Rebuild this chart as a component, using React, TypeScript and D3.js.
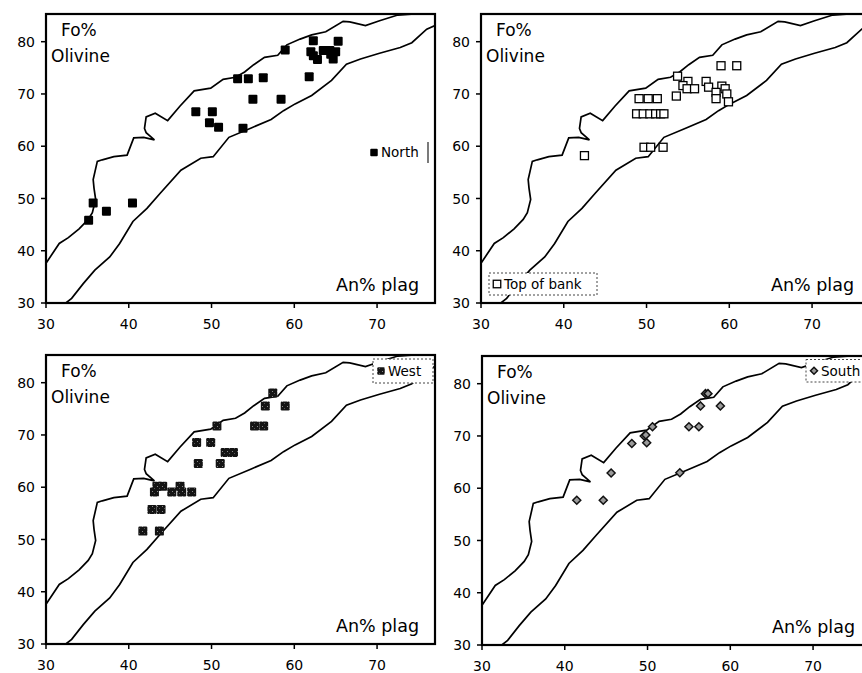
import React from "react";
import * as d3 from "d3";

// ---------- data ----------
const xTicks = [30, 40, 50, 60, 70];
const yTicks = [30, 40, 50, 60, 70, 80];
const xDomain: [number, number] = [30, 77];
const yDomain: [number, number] = [30, 85.3];

const upperBoundary: [number, number][] = [
  [30, 37.6], [31.6, 41.4], [32.7, 42.5], [34.0, 44.2], [35.1, 46.0], [35.6, 47.3],
  [36.0, 49.8], [35.8, 52.0], [35.7, 53.6], [36.2, 57.1], [36.8, 57.4], [38.2, 58.0],
  [39.8, 58.3], [40.6, 61.6], [41.8, 61.7], [43.1, 61.2], [42.1, 62.6], [41.9, 63.4],
  [42.1, 65.6], [43.2, 66.3], [44.7, 64.9], [46.2, 67.7], [47.9, 70.6], [49.9, 71.1],
  [51.4, 72.8], [52.9, 73.2], [54.0, 74.2], [55.1, 75.6], [56.4, 77.0], [58.0, 77.4],
  [59.1, 79.4], [60.7, 80.5], [62.1, 81.3], [63.8, 81.9], [65.9, 83.9], [66.7, 83.8],
  [68.6, 83.1], [70.3, 84.0], [72.5, 85.1], [77, 85.6],
];

const lowerBoundary: [number, number][] = [
  [30, 30.0], [32.4, 30.0], [33.1, 30.9], [34.5, 33.7], [35.9, 36.3], [37.7, 38.8],
  [38.9, 41.4], [40.5, 45.6], [42.2, 48.1], [43.8, 51.0], [46.3, 55.4], [48.7, 57.7],
  [50.2, 58.0], [52.1, 61.7], [54.8, 63.5], [57.2, 65.1], [58.7, 66.8], [60.1, 68.1],
  [62.1, 69.7], [64.5, 72.6], [66.3, 75.7], [68.0, 76.7], [70.3, 77.8], [72.8, 78.9],
  [74.2, 79.8], [76.0, 82.4], [77, 83.1],
];

const northPoints: [number, number][] = [
  [35.15, 45.85], [35.7, 49.15], [37.3, 47.55], [40.45, 49.15],
  [48.1, 66.6], [50.1, 66.6], [49.75, 64.5], [50.85, 63.65], [53.8, 63.45],
  [53.15, 72.9], [54.45, 72.9], [56.25, 73.1], [55.0, 69.0], [58.4, 69.0],
  [58.9, 78.4], [61.8, 73.3], [62.3, 80.2], [62.0, 78.1], [62.3, 77.3],
  [62.8, 76.6], [63.5, 78.3], [64.3, 78.3], [64.7, 76.7], [64.4, 77.6],
  [65.3, 80.1], [65.0, 78.1],
];

const topOfBankPoints: [number, number][] = [
  [42.5, 58.2], [49.7, 59.8], [50.5, 59.8], [52.0, 59.8],
  [49.1, 69.1], [50.2, 69.1], [51.3, 69.1],
  [48.8, 66.2], [49.6, 66.2], [50.4, 66.2], [51.1, 66.2], [51.7, 66.2], [52.1, 66.2],
  [53.75, 73.4], [55.0, 72.4], [54.4, 71.6], [54.9, 71.0], [55.8, 71.0], [57.2, 72.4],
  [57.5, 71.3], [53.6, 69.6], [59.1, 71.5], [59.5, 71.0], [58.4, 70.3], [58.4, 69.1],
  [59.7, 70.0], [59.9, 68.5], [59.0, 75.4], [60.9, 75.4],
];

const westPoints: [number, number][] = [
  [41.7, 51.6], [43.7, 51.6], [42.8, 55.75], [43.9, 55.75],
  [43.1, 59.1], [45.2, 59.1], [46.4, 59.1], [47.6, 59.1],
  [43.4, 60.2], [44.1, 60.2], [46.2, 60.2],
  [48.4, 64.55], [51.05, 64.55], [51.65, 66.65], [52.65, 66.65],
  [48.2, 68.55], [49.9, 68.55], [50.65, 71.7], [55.2, 71.7], [56.3, 71.7],
  [56.5, 75.55], [58.9, 75.55], [57.4, 78.05],
];

const southPoints: [number, number][] = [
  [41.45, 57.7], [44.65, 57.7], [45.6, 62.9], [48.1, 68.55], [49.6, 70.0],
  [49.8, 70.2], [49.9, 68.7], [50.6, 71.75], [53.9, 62.95], [55.0, 71.75],
  [56.2, 71.75], [56.4, 75.75], [57.0, 78.1], [57.3, 78.1], [58.8, 75.75],
];

const seriesNames = ["North", "Top of bank", "West", "South"];

// ---------- rendering ----------
const FONT = "'DejaVu Sans', Verdana, sans-serif";

type MarkerKind = "north" | "bank" | "west" | "south";

function Marker({ kind, x, y, s }: { kind: MarkerKind; x: number; y: number; s: number }) {
  if (kind === "north")
    return <rect x={x - s / 2} y={y - s / 2} width={s} height={s} rx={1} fill="#000" />;
  if (kind === "bank")
    return (
      <rect x={x - s / 2} y={y - s / 2} width={s} height={s} fill="#fff" stroke="#000" strokeWidth={1.3} />
    );
  if (kind === "west")
    return <rect x={x - s / 2} y={y - s / 2} width={s} height={s} rx={1.2} fill="url(#speck)" />;
  const h = s / 2;
  return (
    <path
      d={`M${x},${y - h}L${x + h},${y}L${x},${y + h}L${x - h},${y}Z`}
      fill="#9a9a9a"
      stroke="#111"
      strokeWidth={1.5}
    />
  );
}

interface PanelProps {
  id: string;
  left: number;
  top: number;
  w: number;
  h: number;
  points: [number, number][];
  kind: MarkerKind;
  size: number;
  name: string;
  legend: { x: number; y: number; w: number; h: number; style: "north" | "box" };
}

function Panel(p: PanelProps) {
  const x = d3.scaleLinear().domain(xDomain).range([0, p.w]);
  const y = d3.scaleLinear().domain(yDomain).range([p.h, 0]);
  const line = d3
    .line<[number, number]>()
    .x((d) => x(d[0]))
    .y((d) => y(d[1]));
  const lg = p.legend;
  return (
    <g transform={`translate(${p.left},${p.top})`} fontFamily={FONT}>
      <defs>
        <clipPath id={`clip-${p.id}`}>
          <rect x={0} y={0} width={p.w} height={p.h} />
        </clipPath>
      </defs>
      <g clipPath={`url(#clip-${p.id})`}>
        <path d={line(upperBoundary) || ""} fill="none" stroke="#000" strokeWidth={1.7} />
        <path d={line(lowerBoundary) || ""} fill="none" stroke="#000" strokeWidth={1.7} />
        {p.points.map((d, i) => (
          <Marker key={i} kind={p.kind} x={x(d[0])} y={y(d[1])} s={p.size} />
        ))}
        {/* legend */}
        {lg.style === "box" ? (
          <rect
            x={lg.x}
            y={lg.y}
            width={lg.w}
            height={lg.h}
            fill="#fff"
            stroke="#444"
            strokeWidth={1}
            strokeDasharray="2,2"
          />
        ) : (
          <g>
            <rect x={lg.x} y={lg.y} width={lg.w} height={lg.h} fill="#fff" />
            <line x1={lg.x + lg.w} x2={lg.x + lg.w} y1={lg.y} y2={lg.y + lg.h} stroke="#222" strokeWidth={1.2} />
          </g>
        )}
        <Marker kind={p.kind} x={lg.x + 8} y={lg.y + lg.h / 2} s={p.kind === "south" ? 7 : 7.5} />
        <text x={lg.x + 15} y={lg.y + lg.h / 2} dy="0.36em" fontSize={13.5} fill="#000">
          {p.name}
        </text>
      </g>
      {/* frame */}
      <rect x={0} y={0} width={p.w} height={p.h} fill="none" stroke="#000" strokeWidth={2.2} />
      {/* y axis */}
      {yTicks.map((t) => (
        <g key={`y${t}`} transform={`translate(0,${y(t)})`}>
          <line x1={-5} x2={0} stroke="#000" strokeWidth={1.5} />
          <text x={-11} dy="0.36em" textAnchor="end" fontSize={14} fill="#000">
            {t}
          </text>
        </g>
      ))}
      {/* x axis */}
      {xTicks.map((t) => (
        <g key={`x${t}`} transform={`translate(${x(t)},${p.h})`}>
          <line y1={0} y2={5} stroke="#000" strokeWidth={1.5} />
          <text y={26} textAnchor="middle" fontSize={14} fill="#000">
            {t}
          </text>
        </g>
      ))}
      <text x={15} y={22} fontSize={17} fill="#000">
        Fo%
      </text>
      <text x={5} y={47.5} fontSize={17} fill="#000">
        Olivine
      </text>
      <text x={p.w - 16} y={p.h - 12} textAnchor="end" fontSize={17.5} fill="#000">
        An% plag
      </text>
    </g>
  );
}

export default function App() {
  const W = 862;
  const H = 673;
  return (
    <svg
      width={W}
      height={H}
      viewBox={`0 0 ${W} ${H}`}
      style={{ position: "absolute", left: 0, top: 0, background: "#fff" }}
    >
      <defs>
        <pattern id="speck" width={5} height={5} patternUnits="userSpaceOnUse">
          <rect width={5} height={5} fill="#141414" />
          <rect x={1} y={1} width={1} height={1} fill="#8a8a8a" />
          <rect x={3} y={3} width={1} height={1} fill="#555" />
        </pattern>
      </defs>
      <rect width={W} height={H} fill="#fff" />
      <Panel
        id="n"
        left={46}
        top={14}
        w={389}
        h={289}
        points={northPoints}
        kind="north"
        size={9}
        name={seriesNames[0]}
        legend={{ x: 320, y: 128, w: 62, h: 21, style: "north" }}
      />
      <Panel
        id="t"
        left={481}
        top={14}
        w={389}
        h={289}
        points={topOfBankPoints}
        kind="bank"
        size={8}
        name={seriesNames[1]}
        legend={{ x: 8, y: 259, w: 108, h: 22, style: "box" }}
      />
      <Panel
        id="w"
        left={46}
        top={355}
        w={389}
        h={289}
        points={westPoints}
        kind="west"
        size={9}
        name={seriesNames[2]}
        legend={{ x: 327, y: 4, w: 60, h: 24, style: "box" }}
      />
      <Panel
        id="s"
        left={482}
        top={356}
        w={389}
        h={289}
        points={southPoints}
        kind="south"
        size={8}
        name={seriesNames[3]}
        legend={{ x: 324, y: 3.5, w: 70, h: 22.5, style: "box" }}
      />
    </svg>
  );
}
